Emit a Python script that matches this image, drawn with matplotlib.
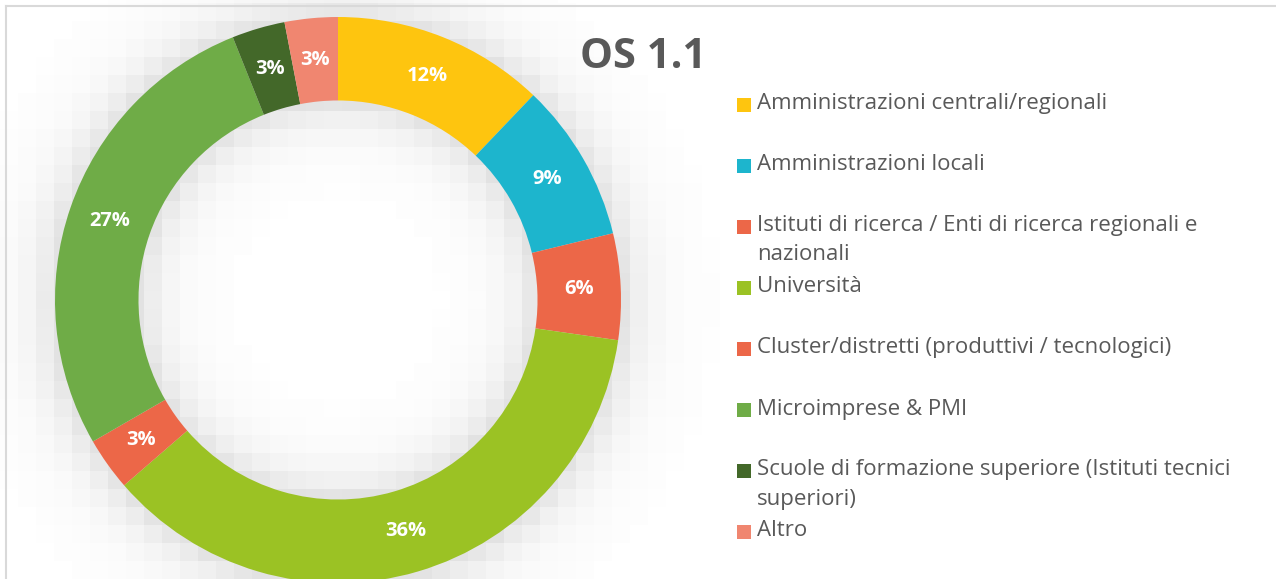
# Donut chart "OS 1.1" - beneficiari per tipologia

import numpy as np
import matplotlib.pyplot as plt
from matplotlib.patches import Rectangle
from matplotlib.lines import Line2D

# data (counts, shown as percentages)
categories = ["Amministrazioni centrali/regionali",
              "Amministrazioni locali",
              "Istituti di ricerca / Enti di ricerca regionali e\nnazionali",
              "Università",
              "Cluster/distretti (produttivi / tecnologici)",
              "Microimprese & PMI",
              "Scuole di formazione superiore (Istituti tecnici\nsuperiori)",
              "Altro"]
counts = [4, 3, 2, 12, 1, 9, 1, 1]
colors = ["#FEC50F", "#1DB5CD", "#EC6748", "#9BC224",
          "#EC6748", "#6FAC47", "#436829", "#F08670"]
title = "OS 1.1"

W, H = 1276, 579
CX, CY, R = 338, H - 300, 283
RING = 0.295

plt.rcParams['font.family'] = ['Open Sans', 'DejaVu Sans']

fig = plt.figure(figsize=(W / 100, H / 100), dpi=100)
ax = fig.add_axes([0, 0, 1, 1])
ax.set_xlim(0, W)
ax.set_ylim(0, H)
ax.axis("off")

# blocky soft shadow around the ring
cell = 18
xs = np.arange(0, W, cell) + cell / 2
ys = np.arange(0, H, cell) + cell / 2
gx, gy = np.meshgrid(xs, ys)
dist = np.hypot(gx - CX, gy - CY)
r_in = R * (1 - RING)
d_out = np.clip(dist - R, 0, None)
d_in = np.clip(r_in - dist, 0, None)
dd = np.maximum(d_out, d_in)
shade = 0.2 * np.exp(-dd / 28.0)
shade[dd > 95] = 0
img = np.ones((len(ys), len(xs), 4))
img[..., :3] = 0.45
img[..., 3] = shade
ax.imshow(img, extent=(0, len(xs) * cell, 0, len(ys) * cell), origin="lower",
          interpolation="nearest", zorder=0)

wedges, texts, autotexts = ax.pie(
    counts, colors=colors, center=(CX, CY), radius=R,
    startangle=90, counterclock=False,
    wedgeprops=dict(width=R * RING, linewidth=0),
    autopct=lambda p: f"{p:.0f}%", pctdistance=1 - RING / 2,
    textprops=dict(color="white", fontsize=14.5, fontweight="bold"))
for w in wedges:
    w.set_zorder(2)
for t in autotexts:
    t.set_zorder(3)
ax.set_xlim(0, W)
ax.set_ylim(0, H)
ax.set_aspect("equal")

# title
ax.text(643, H - 57, title, ha="center", va="center", fontsize=30,
        fontweight="bold", color="#595959")

# legend (manual, square aligned to first line)
y = H - 104
for lab, col in zip(categories, colors):
    ax.add_patch(Rectangle((737, y - 7.5), 14, 14, color=col, lw=0))
    lines = lab.split("\n")
    for k, line in enumerate(lines):
        ax.text(757, y - k * 29, line, ha="left", va="center",
                fontsize=16, color="#595959")
    y -= 61

# frame lines (top and left only)
fig.add_artist(Line2D([6 / W, 1], [1 - 6 / H, 1 - 6 / H], color="#D9D9D9", lw=1.5,
                      transform=fig.transFigure))
fig.add_artist(Line2D([6 / W, 6 / W], [0, 1 - 6 / H], color="#D9D9D9", lw=1.5,
                      transform=fig.transFigure))

fig.savefig("out.png", dpi=100)
